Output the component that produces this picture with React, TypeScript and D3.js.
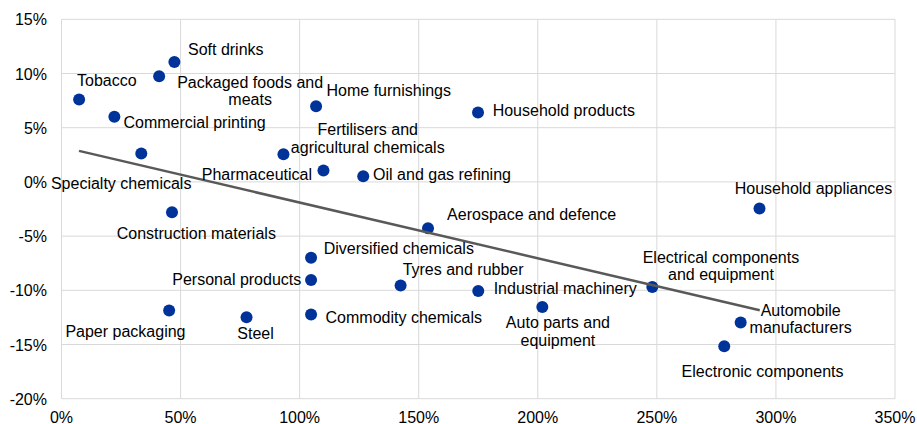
import React from "react";
import * as d3 from "d3";

// ---- data ----
const sectors = [
  "Tobacco", "Soft drinks", "Packaged foods and\nmeats", "Commercial printing",
  "Specialty chemicals", "Pharmaceutical", "Home furnishings", "Household products",
  "Fertilisers and\nagricultural chemicals", "Oil and gas refining", "Construction materials",
  "Diversified chemicals", "Personal products", "Commodity chemicals", "Paper packaging",
  "Steel", "Aerospace and defence", "Tyres and rubber", "Industrial machinery",
  "Auto parts and\nequipment", "Household appliances", "Electrical components\nand equipment",
  "Automobile\nmanufacturers", "Electronic components",
];
const xValues = [7.4, 47.4, 41.0, 22.2, 33.5, 93.2, 106.9, 174.9, 110.0, 126.7, 46.4, 104.8, 104.8, 104.8, 45.2, 77.7, 153.9, 142.4, 175.0, 201.9, 293.1, 248.1, 285.2, 278.3];
const yValues = [7.6, 11.07, 9.75, 6.0, 2.62, 2.55, 6.98, 6.4, 1.05, 0.53, -2.8, -7.0, -9.04, -12.23, -11.86, -12.48, -4.27, -9.56, -10.06, -11.53, -2.46, -9.69, -12.97, -15.16];
const trendX = [7.35, 293.2];
const trendY = [2.86, -11.84];
const xTicks = [0, 50, 100, 150, 200, 250, 300, 350];
const yTicks = [15, 10, 5, 0, -5, -10, -15, -20];

// ---- label layout (pixel offsets from each point: centre x, first baseline y) ----
const labelDx = [27.7, 51.4, 91, 80.2, -20.1, -26.6, 72.7, 85.8, 44.3, 78.8, 24.3, 87.7, -74.3, 92.7, -43.7, 9, 103.6, 62.5, 87, 15.6, 54, 68.6, 60, 38.3];
const labelDy = [-13.3, -7.4, 11.3, 11.6, 35.9, 25.3, -10.3, 3.7, -35.3, 4, 26.3, -3.4, 5.3, 9, 26.4, 22.3, -8, -10.3, 3.3, 21.6, -15, -24.4, -6.6, 30.7];

const W = 917;
const H = 424;
const FONT = "'Liberation Sans', Arial, sans-serif";

export default function App() {
  const x = d3.scaleLinear().domain([0, 350]).range([61.5, 895]);
  const y = d3.scaleLinear().domain([-20, 15]).range([398.7, 19.3]);
  const line = d3.line<number>().x((_, i) => x(trendX[i])).y((_, i) => y(trendY[i]));
  const fmt = (v: number) => `${v}%`;

  return (
    <svg width={W} height={H} style={{ position: "absolute", left: 0, top: 0, background: "#fff" }} fontFamily={FONT}>
      <g>
        {yTicks.map((t) => (
          <line key={"gy" + t} x1={x(0)} x2={x(350)} y1={y(t)} y2={y(t)} stroke="#d9d9d9" strokeWidth={1} />
        ))}
        {xTicks.map((t) => (
          <line key={"gx" + t} x1={x(t)} x2={x(t)} y1={y(15)} y2={y(-20)} stroke="#d9d9d9" strokeWidth={1} />
        ))}
      </g>
      <g fontSize={16} fill="#000">
        {yTicks.map((t) => (
          <text key={"ty" + t} x={47} y={y(t) + 6} textAnchor="end">{fmt(t)}</text>
        ))}
        {xTicks.map((t) => (
          <text key={"tx" + t} x={x(t)} y={422.5} textAnchor="middle">{fmt(t)}</text>
        ))}
      </g>
      <g>
        {xValues.map((v, i) => (
          <circle key={"p" + i} cx={x(v)} cy={y(yValues[i])} r={6} fill="#003399" />
        ))}
      </g>
      <path d={line(trendX) || ""} fill="none" stroke="#595959" strokeWidth={2.5} />
      <g fontSize={16} fill="#000" textAnchor="middle">
        {sectors.map((s, i) => {
          const cx = x(xValues[i]) + labelDx[i];
          const by = y(yValues[i]) + labelDy[i];
          return (
            <text key={"l" + i} x={cx} y={by}>
              {s.split("\n").map((ln, j) => (
                <tspan key={j} x={cx} y={by + j * 17.5}>{ln}</tspan>
              ))}
            </text>
          );
        })}
      </g>
    </svg>
  );
}
